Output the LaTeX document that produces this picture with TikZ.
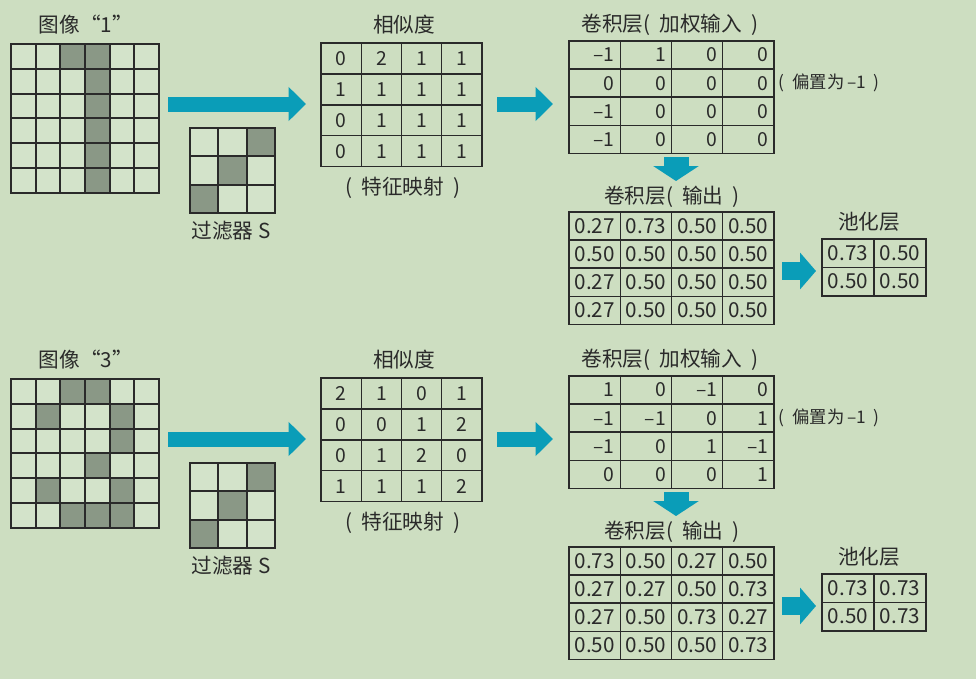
\documentclass[tikz,border=0pt]{standalone}
\usepackage{fontspec}
\setmainfont{Noto Sans CJK SC}
\usetikzlibrary{arrows.meta}
\definecolor{bg}{HTML}{CDDEC1}
\definecolor{cellbg}{HTML}{D3E3CA}
\definecolor{darkcell}{HTML}{8A9886}
\definecolor{arrowc}{HTML}{0A9DB8}
\definecolor{ink}{HTML}{2A2A2A}
\tikzset{
  pixcell/.style={draw=ink, line width=1.5pt, fill=cellbg, inner sep=0pt, outer sep=0pt},
  tabcell/.style={draw=ink, line width=1.1pt, inner sep=0pt, outer sep=0pt},
  title/.style={inner sep=0pt, font=\fontsize{15.5}{18}\selectfont, text=ink},
  numtxt/.style={inner sep=0pt, font=\fontsize{14.5}{16}\selectfont, text=ink},
  dectxt/.style={inner sep=0pt, font=\fontsize{15.5}{17}\selectfont, text=ink},
  notetxt/.style={inner sep=0pt, font=\fontsize{13}{15}\selectfont, text=ink},
  bigarrow/.style={draw=arrowc, line width=11.25pt, -{Triangle[length=13pt,width=24.75pt]}},
  downarrow/.style={draw=arrowc, line width=18.75pt, -{Triangle[length=11.25pt,width=33.75pt]}},
  smallarrow/.style={draw=arrowc, line width=13.5pt, -{Triangle[length=12pt,width=27pt]}},
}
\newcommand{\gap}{\hspace{0.45em}}
% #1 name, #2 x0, #3 y0, #4 cols, #5 rows, #6 cw, #7 ch, #8 style
\newcommand{\cellgrid}[8]{%
  \foreach \r in {1,...,#5}{\foreach \c in {1,...,#4}{
    \node[#8, minimum width=#6*0.75pt, minimum height=#7*0.75pt]
      (#1-\r-\c) at ({#2+(\c-0.5)*#6},{#3+(\r-0.5)*#7}) {};
  }}}
% #1 suffix, #2 dy, #3 digit, #4 dark cells, #5 similarity, #6 weighted, #7 output, #8 pool
\newcommand{\half}[8]{%
  \begin{scope}[yshift=-#2*0.75pt]
  % input image
  \node[title] (lbl#1) at (86,25) {图像“#3”};
  \cellgrid{img#1}{11}{44}{6}{6}{24.67}{24.83}{pixcell}
  \foreach \r/\c in {#4}{
    \path[draw=ink, line width=1.5pt, fill=darkcell] (img#1-\r-\c.north west) rectangle (img#1-\r-\c.south east);
  }
  % filter
  \cellgrid{flt#1}{190}{128}{3}{3}{28.33}{28.33}{pixcell}
  \foreach \r/\c in {1/3,2/2,3/1}{
    \path[draw=ink, line width=1.5pt, fill=darkcell] (flt#1-\r-\c.north west) rectangle (flt#1-\r-\c.south east);
  }
  \node[title] (fltlbl#1) at (231,231) {过滤器 S};
  % similarity
  \node[title] (simlbl#1) at (404,25) {相似度};
  \cellgrid{sim#1}{321}{43}{4}{4}{40.25}{30.9}{tabcell}
  \foreach \row [count=\r] in {#5}{\foreach \v [count=\c] in \row {
    \node[numtxt] (simt#1-\r-\c) at (sim#1-\r-\c) {\v};
  }}
  \node[title] (simcap#1) at (403,188) {(\gap 特征映射\gap)};
  % weighted input
  \node[title] (wlbl#1) at (670,25) {卷积层(\gap 加权输入\gap)};
  \cellgrid{w#1}{569}{41}{4}{4}{51.25}{28.1}{tabcell}
  \foreach \row [count=\r] in {#6}{\foreach \v [count=\c] in \row {
    \node[numtxt, anchor=east] (wt#1-\r-\c) at ([xshift=-4pt]w#1-\r-\c.east) {\v};
  }}
  \node[notetxt, anchor=west] (note#1) at ([xshift=3.5pt]w#1-2-4.east) {(\gap 偏置为\hspace{0.15em}–1\gap)};
  % output
  \node[title] (olbl#1) at (672,197) {卷积层(\gap 输出\gap)};
  \cellgrid{o#1}{569}{212}{4}{4}{51.25}{28.1}{tabcell}
  \foreach \row [count=\r] in {#7}{\foreach \v [count=\c] in \row {
    \node[dectxt] (ot#1-\r-\c) at (o#1-\r-\c) {\v};
  }}
  % pooling
  \node[title] (plbl#1) at (869,222) {池化层};
  \cellgrid{p#1}{822}{239}{2}{2}{52}{28.4}{tabcell}
  \foreach \row [count=\r] in {#8}{\foreach \v [count=\c] in \row {
    \node[dectxt] (pt#1-\r-\c) at (p#1-\r-\c) {\v};
  }}
  % arrows
  \coordinate (a1s#1) at (168,104);
  \coordinate (a1e#1) at (306,104);
  \coordinate (a2s#1) at (497,104);
  \coordinate (a2e#1) at (553,104);
  \coordinate (a3s#1) at (676,157);
  \coordinate (a3e#1) at (676,181);
  \coordinate (a4s#1) at (782,271);
  \coordinate (a4e#1) at (816,271);
  \draw[bigarrow] (a1s#1) -- (a1e#1);
  \draw[bigarrow] (a2s#1) -- (a2e#1);
  \draw[downarrow] (a3s#1) -- (a3e#1);
  \draw[smallarrow] (a4s#1) -- (a4e#1);
  \end{scope}
}
\begin{document}
\begin{tikzpicture}[x=0.75pt,y=-0.75pt]
\fill[bg] (0,0) rectangle (976,679);
\useasboundingbox (0,0) rectangle (976,679);
\half{A}{0}{1}{1/3,1/4,2/4,3/4,4/4,5/4,6/4}
  {{0,2,1,1},{1,1,1,1},{0,1,1,1},{0,1,1,1}}
  {{–1,1,0,0},{0,0,0,0},{–1,0,0,0},{–1,0,0,0}}
  {{0.27,0.73,0.50,0.50},{0.50,0.50,0.50,0.50},{0.27,0.50,0.50,0.50},{0.27,0.50,0.50,0.50}}
  {{0.73,0.50},{0.50,0.50}}
\half{B}{335}{3}{1/3,1/4,2/2,2/5,3/5,4/4,5/2,5/5,6/3,6/4,6/5}
  {{2,1,0,1},{0,0,1,2},{0,1,2,0},{1,1,1,2}}
  {{1,0,–1,0},{–1,–1,0,1},{–1,0,1,–1},{0,0,0,1}}
  {{0.73,0.50,0.27,0.50},{0.27,0.27,0.50,0.73},{0.27,0.50,0.73,0.27},{0.50,0.50,0.50,0.73}}
  {{0.73,0.73},{0.50,0.73}}
\end{tikzpicture}
\end{document}
